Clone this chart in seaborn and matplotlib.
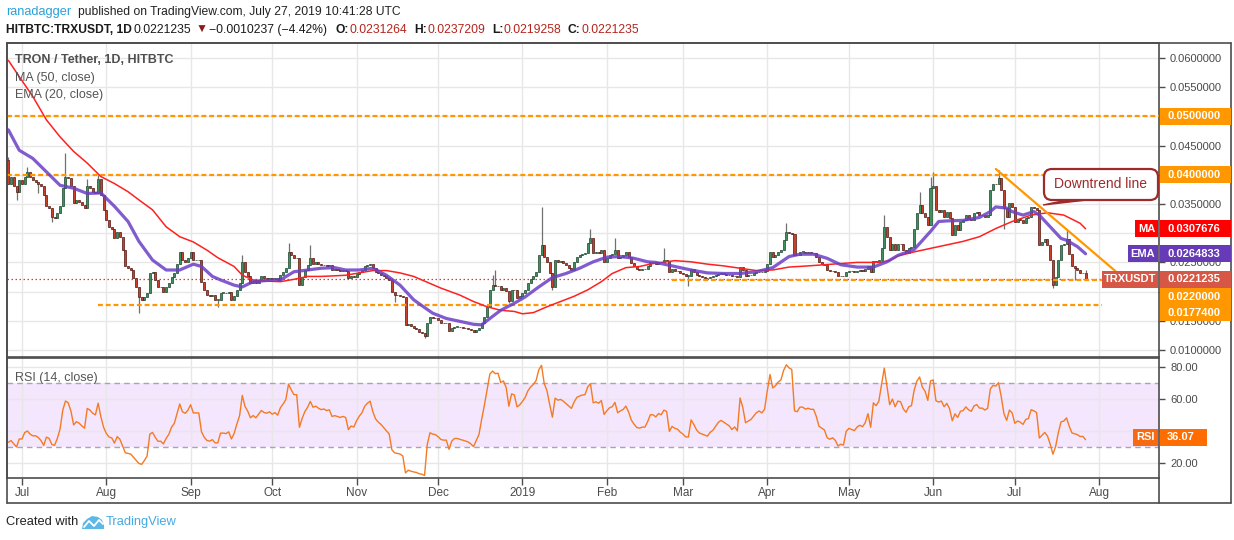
import numpy as np
import pandas as pd
import seaborn as sns
import matplotlib.pyplot as plt
import matplotlib.transforms as mtransforms
from matplotlib.patches import Rectangle, FancyBboxPatch, Polygon
from matplotlib.lines import Line2D

# ---- data (TRX/USDT daily, HitBTC) ----
start_date = "2018-06-26"
first_open = 0.0425

closes = [
    0.0385, 0.0397, 0.0380, 0.0371, 0.0391, 0.0385, 0.0397, 0.0404, 0.0397, 0.0391,  # Jun 26
    0.0388, 0.0385, 0.0380, 0.0366, 0.0346, 0.0343, 0.0328, 0.0326, 0.0334, 0.0346,
    0.0377, 0.0397, 0.0394, 0.0380, 0.0351, 0.0357, 0.0354, 0.0348, 0.0343, 0.0380,
    0.0377, 0.0371, 0.0368, 0.0392, 0.0366, 0.0340, 0.0322, 0.0311, 0.0308, 0.0291,  # Aug
    0.0302, 0.0294, 0.0271, 0.0243, 0.0240, 0.0237, 0.0223, 0.0208, 0.0191, 0.0186,
    0.0191, 0.0197, 0.0231, 0.0234, 0.0220, 0.0208, 0.0208, 0.0200, 0.0208, 0.0214,
    0.0225, 0.0231, 0.0248, 0.0268, 0.0254, 0.0251, 0.0257, 0.0268, 0.0254, 0.0254,  # Sep
    0.0254, 0.0217, 0.0203, 0.0194, 0.0192, 0.0194, 0.0186, 0.0186, 0.0198, 0.0198,
    0.0197, 0.0199, 0.0186, 0.0192, 0.0203, 0.0214, 0.0251, 0.0234, 0.0226, 0.0214,
    0.0218, 0.0214, 0.0220, 0.0226, 0.0223, 0.0222, 0.0224, 0.0221, 0.0223, 0.0220,  # Oct
    0.0229, 0.0234, 0.0240, 0.0268, 0.0262, 0.0257, 0.0257, 0.0211, 0.0225, 0.0237,
    0.0245, 0.0257, 0.0248, 0.0250, 0.0247, 0.0245, 0.0246, 0.0244, 0.0245, 0.0237,
    0.0238, 0.0237, 0.0236, 0.0237, 0.0236, 0.0223, 0.0226, 0.0225, 0.0230, 0.0234,  # Nov
    0.0237, 0.0243, 0.0246, 0.0248, 0.0240, 0.0234, 0.0231, 0.0229, 0.0226, 0.0223,
    0.0220, 0.0200, 0.0195, 0.0194, 0.0193, 0.0190, 0.0143, 0.0145, 0.0141, 0.0138,
    0.0136, 0.0131, 0.0129, 0.0124, 0.0146, 0.0157, 0.0155, 0.0154, 0.0151, 0.0147,  # Dec
    0.0146, 0.0146, 0.0132, 0.0138, 0.0140, 0.0140, 0.0139, 0.0138, 0.0137, 0.0136,
    0.0134, 0.0131, 0.0134, 0.0137, 0.0146, 0.0157, 0.0174, 0.0203, 0.0211, 0.0209,
    0.0210, 0.0203, 0.0206, 0.0201, 0.0184, 0.0203, 0.0202, 0.0189, 0.0192, 0.0197,  # Jan
    0.0203, 0.0214, 0.0221, 0.0226, 0.0234, 0.0263, 0.0280, 0.0260, 0.0251, 0.0231,
    0.0208, 0.0254, 0.0250, 0.0252, 0.0249, 0.0245, 0.0241, 0.0237, 0.0250, 0.0260,
    0.0263, 0.0265, 0.0266, 0.0283, 0.0291, 0.0266, 0.0268, 0.0266, 0.0271, 0.0251,
    0.0257, 0.0262, 0.0264, 0.0271, 0.0257, 0.0260, 0.0262, 0.0267, 0.0260, 0.0249,  # Feb
    0.0243, 0.0238, 0.0237, 0.0238, 0.0238, 0.0243, 0.0250, 0.0250, 0.0248, 0.0251,
    0.0250, 0.0254, 0.0253, 0.0234, 0.0238, 0.0236, 0.0235, 0.0232, 0.0230, 0.0227,
    0.0227, 0.0238, 0.0234, 0.0229, 0.0226, 0.0225, 0.0224, 0.0223, 0.0225, 0.0226,  # Mar
    0.0228, 0.0230, 0.0231, 0.0230, 0.0229, 0.0228, 0.0226, 0.0227, 0.0225, 0.0242,
    0.0237, 0.0227, 0.0228, 0.0229, 0.0231, 0.0233, 0.0234, 0.0233, 0.0235, 0.0248,
    0.0268, 0.0260, 0.0263, 0.0268, 0.0271, 0.0288, 0.0302, 0.0300, 0.0299, 0.0263,  # Apr
    0.0262, 0.0268, 0.0268, 0.0266, 0.0267, 0.0266, 0.0266, 0.0260, 0.0250, 0.0248,
    0.0246, 0.0237, 0.0235, 0.0236, 0.0233, 0.0226, 0.0227, 0.0226, 0.0234, 0.0236,
    0.0235, 0.0234, 0.0236, 0.0237, 0.0236, 0.0238, 0.0243, 0.0234, 0.0252, 0.0250,  # May
    0.0254, 0.0274, 0.0311, 0.0294, 0.0271, 0.0282, 0.0271, 0.0282, 0.0281, 0.0271,
    0.0266, 0.0275, 0.0277, 0.0308, 0.0334, 0.0348, 0.0334, 0.0328, 0.0314, 0.0377,
    0.0381, 0.0340, 0.0337, 0.0340, 0.0328, 0.0337, 0.0326, 0.0297, 0.0314, 0.0305,  # Jun
    0.0320, 0.0322, 0.0331, 0.0325, 0.0322, 0.0334, 0.0337, 0.0331, 0.0331, 0.0328,
    0.0331, 0.0374, 0.0385, 0.0384, 0.0394, 0.0374, 0.0343, 0.0328, 0.0351, 0.0345,
    0.0320, 0.0325, 0.0322, 0.0317, 0.0326, 0.0328, 0.0345, 0.0343, 0.0340, 0.0280,  # Jul
    0.0285, 0.0290, 0.0280, 0.0254, 0.0211, 0.0225, 0.0254, 0.0280, 0.0282, 0.0290,
    0.0265, 0.0243, 0.0240, 0.0237, 0.0231, 0.0231264, 0.0221235,
]

# visible wicks (day offset from start_date)
hi_days = [0, 7, 21, 29, 33, 86, 103, 111, 178, 179, 196, 214, 223, 241, 286,
           322, 335, 339, 340, 364, 389, 396]
hi_vals = [0.0430, 0.0414, 0.0437, 0.0392, 0.0400, 0.0263, 0.0283, 0.0280, 0.0228, 0.0237,
           0.0345, 0.0307, 0.0291, 0.0274, 0.0317, 0.0331, 0.0371, 0.0397, 0.0405, 0.0408,
           0.0307, 0.0237209]
lo_days = [3, 11, 16, 48, 77, 142, 153, 184, 200, 250, 366, 384, 392, 396]
lo_vals = [0.0357, 0.0368, 0.0320, 0.0163, 0.0174, 0.0182, 0.0120, 0.0180, 0.0203, 0.0209,
           0.0308, 0.0206, 0.0220, 0.0219258]

# MA (50) and EMA (20) as drawn on the chart
ma_days = [0, 4, 9, 14, 19, 24, 29, 34, 39, 44, 48, 53, 58, 63, 68, 73, 77, 83, 86, 90,
           95, 100, 105, 110, 115, 120, 124, 129, 134, 139, 144, 149, 154, 159, 166, 171,
           176, 181, 186, 189, 193, 198, 203, 208, 213, 218, 222, 227, 232, 237, 245, 251,
           257, 263, 269, 275, 281, 287, 294, 300, 306, 312, 318, 320, 324, 327, 333, 339,
           345, 351, 357, 363, 369, 376, 382, 388, 394, 396]
ma_vals = [0.0596, 0.0568, 0.0534, 0.0494, 0.0465, 0.0440, 0.0420, 0.0397, 0.0385, 0.0371,
           0.0357, 0.0340, 0.0311, 0.0294, 0.0285, 0.0271, 0.0258, 0.0243, 0.0228, 0.0220,
           0.0218, 0.0217, 0.0221, 0.0226, 0.0226, 0.0227, 0.0228, 0.0232, 0.0236, 0.0236,
           0.0232, 0.0226, 0.0216, 0.0206, 0.0194, 0.0183, 0.0174, 0.0168, 0.0166, 0.0162,
           0.0164, 0.0174, 0.0183, 0.0192, 0.0203, 0.0217, 0.0231, 0.0241, 0.0243, 0.0248,
           0.0253, 0.0251, 0.0247, 0.0244, 0.0240, 0.0236, 0.0237, 0.0242, 0.0244, 0.0246,
           0.0248, 0.0250, 0.0250, 0.0250, 0.0253, 0.0261, 0.0268, 0.0274, 0.0280, 0.0286,
           0.0294, 0.0308, 0.0320, 0.0331, 0.0335, 0.0331, 0.0317, 0.0307676]
ema_days = [0, 4, 9, 14, 19, 24, 29, 34, 39, 44, 48, 53, 58, 63, 68, 71, 75, 78, 83, 86,
            90, 95, 100, 105, 110, 115, 120, 124, 129, 134, 139, 144, 149, 152, 156, 161,
            166, 171, 174, 177, 181, 186, 190, 195, 200, 205, 210, 215, 220, 225, 230, 235,
            238, 244, 251, 257, 263, 269, 275, 281, 287, 291, 296, 301, 306, 312, 318, 323,
            327, 333, 339, 342, 345, 351, 357, 361, 363, 367, 369, 373, 377, 379, 383, 387,
            389, 393, 396]
ema_vals = [0.0477, 0.0442, 0.0428, 0.0405, 0.0382, 0.0377, 0.0368, 0.0369, 0.0346, 0.0320,
            0.0286, 0.0254, 0.0237, 0.0237, 0.0247, 0.0243, 0.0226, 0.0220, 0.0211, 0.0208,
            0.0217, 0.0219, 0.0220, 0.0234, 0.0237, 0.0240, 0.0241, 0.0237, 0.0237, 0.0240,
            0.0228, 0.0211, 0.0186, 0.0176, 0.0163, 0.0154, 0.0149, 0.0144, 0.0143, 0.0154,
            0.0168, 0.0180, 0.0191, 0.0208, 0.0224, 0.0231, 0.0240, 0.0251, 0.0259, 0.0260,
            0.0257, 0.0251, 0.0250, 0.0244, 0.0237, 0.0232, 0.0231, 0.0231, 0.0234, 0.0241,
            0.0260, 0.0264, 0.0264, 0.0257, 0.0246, 0.0242, 0.0242, 0.0251, 0.0262, 0.0272,
            0.0303, 0.0320, 0.0321, 0.0322, 0.0327, 0.0337, 0.0345, 0.0343, 0.0337, 0.0331,
            0.0337, 0.0331, 0.0311, 0.0291, 0.0288, 0.0277, 0.0264833]

# RSI for the first two weeks (before 14 bars of history exist in this series)
rsi_head = [33, 34, 32, 30, 35, 35, 39, 40, 38, 37, 37, 36, 34, 31]

full_levels = [0.05, 0.04]
support_levels = [0.022, 0.01774]
support_from = ["2019-02-25", "2018-07-29"]
support_to = "2019-08-02"
trend_dates = ["2019-06-24", "2019-08-07"]
trend_prices = [0.0410, 0.0235]

last_price = 0.0221235
ma_last = 0.0307676
ema_last = 0.0264833
rsi_last = 36.07

month_starts = ["2018-07-01", "2018-08-01", "2018-09-01", "2018-10-01", "2018-11-01",
                "2018-12-01", "2019-01-01", "2019-02-01", "2019-03-01", "2019-04-01",
                "2019-05-01", "2019-06-01", "2019-07-01", "2019-08-01"]
month_labels = ["Jul", "Aug", "Sep", "Oct", "Nov", "Dec", "2019", "Feb", "Mar", "Apr",
                "May", "Jun", "Jul", "Aug"]

# ---- figure ----
sns.set_theme(style="white")
plt.rcParams["font.family"] = ["Liberation Sans", "DejaVu Sans"]

W, H = 1234, 540
fig = plt.figure(figsize=(W / 100, H / 100), dpi=100)
fig.patch.set_facecolor("white")
ident = mtransforms.IdentityTransform()


def fy(y):
    # pixel row from the top -> display y
    return H - y


ax = fig.add_axes([7 / W, (H - 357) / H, 1152 / W, 314 / H])
ax_rsi = fig.add_axes([7 / W, (H - 478) / H, 1152 / W, 120 / H])

t0 = pd.Timestamp(start_date)


def day_of(s):
    return (pd.Timestamp(s) - t0).days


xlim = (-0.5, 423.0)
month_x = [day_of(m) for m in month_starts]
grid_c = "#e7e7e7"
frame_c = "#4d4d4d"

# candles
n = len(closes)
days = np.arange(n)
cl = np.array(closes)
op = np.array([first_open] + closes[:-1])
highs = np.maximum(op, cl)
lows = np.minimum(op, cl)
highs[hi_days] = hi_vals
lows[lo_days] = lo_vals
up = cl >= op
body_lo = np.minimum(op, cl)
body_h = np.maximum(np.abs(cl - op), 0.00007)

ax.vlines(days, lows, highs, color="#707070", lw=0.9, zorder=2)
ax.bar(days[up], body_h[up], bottom=body_lo[up], width=0.74, color="#3f8f5f",
       edgecolor="#1d4a30", linewidth=0.5, zorder=3)
ax.bar(days[~up], body_h[~up], bottom=body_lo[~up], width=0.74, color="#c83f2c",
       edgecolor="#541a12", linewidth=0.5, zorder=3)

sns.lineplot(x=ma_days, y=ma_vals, ax=ax, color="#ff2020", lw=1.1, zorder=5, legend=False)
sns.lineplot(x=ema_days, y=ema_vals, ax=ax, color="#6b3fc6", lw=2.3, alpha=0.85, zorder=5,
             legend=False)

# levels and drawings
ax.axhline(last_price, color="#e03a34", lw=0.9, ls=(0, (1.2, 2)), zorder=1.5)
for lv in full_levels:
    ax.axhline(lv, color="#ff9800", lw=1.6, ls=(0, (2.2, 1.3)), zorder=4)
for lv, d0 in zip(support_levels, support_from):
    ax.hlines(lv, day_of(d0), day_of(support_to), color="#ff9800", lw=1.6,
              ls=(0, (2.2, 1.3)), zorder=4)
ax.plot([day_of(d) for d in trend_dates], trend_prices, color="#ff9800", lw=1.6, zorder=6)

ax.set_xlim(*xlim)
ax.set_ylim(0.008801, 0.062568)
ax.set_xticks(month_x)
price_ticks = np.arange(0.01, 0.0601, 0.005)
# labels that sit fully under a price tag are left blank
hidden = {0.05, 0.04, 0.03, 0.02}
ax.set_yticks(price_ticks)
ax.set_yticklabels(["" if round(v, 3) in hidden else f"{v:.7f}" for v in price_ticks])
ax.yaxis.tick_right()
ax.tick_params(axis="y", right=True, left=False, length=4, width=1, color=frame_c,
               labelsize=8, labelcolor="#4a4a4a", pad=4)
ax.tick_params(axis="x", length=0, labelbottom=False)
ax.grid(True, color=grid_c, lw=1)
ax.set_axisbelow(True)
ax.set_xlabel("")
ax.set_ylabel("")
for sp in ax.spines.values():
    sp.set_color(frame_c)
    sp.set_linewidth(1.2)

# RSI panel
cs = pd.Series(closes)
delta = cs.diff()
gain = delta.clip(lower=0).to_numpy()
loss = (-delta).clip(lower=0).to_numpy()
avg_g = np.full(n, np.nan)
avg_l = np.full(n, np.nan)
avg_g[14] = gain[1:15].mean()
avg_l[14] = loss[1:15].mean()
for i in range(15, n):
    avg_g[i] = (avg_g[i - 1] * 13 + gain[i]) / 14
    avg_l[i] = (avg_l[i - 1] * 13 + loss[i]) / 14
rsi = 100 - 100 / (1 + avg_g / avg_l)
rsi[:14] = rsi_head

ax_rsi.axhspan(30, 70, color="#f3e6fd", zorder=0.5, lw=0)
for lv in (70, 30):
    ax_rsi.axhline(lv, color="#aaa3b2", lw=1, ls=(0, (4, 3)), zorder=1)
sns.lineplot(x=days, y=rsi, ax=ax_rsi, color="#f57a22", lw=1.0, zorder=3, legend=False)
ax_rsi.set_xlim(*xlim)
ax_rsi.set_ylim(10.625, 85.625)
ax_rsi.set_xticks(month_x)
ax_rsi.set_xticklabels(month_labels)
ax_rsi.set_yticks([20, 40, 60, 80])
# 40.00 sits under the RSI value tag
ax_rsi.set_yticklabels(["20.00", "", "60.00", "80.00"])
ax_rsi.yaxis.tick_right()
ax_rsi.tick_params(axis="y", right=True, left=False, length=4, width=1, color=frame_c,
                   labelsize=8, labelcolor="#4a4a4a", pad=4)
ax_rsi.tick_params(axis="x", bottom=True, length=5, width=1, color=frame_c,
                   labelsize=8.5, labelcolor="#4a4a4a", pad=1.5)
ax_rsi.grid(True, color=grid_c, lw=1)
ax_rsi.set_axisbelow(True)
ax_rsi.set_xlabel("")
ax_rsi.set_ylabel("")
for sp in ax_rsi.spines.values():
    sp.set_color(frame_c)
    sp.set_linewidth(1.2)

# outer frame
for (x0, y0, x1, y1) in [(7, 43, 1231, 43), (1231, 43, 1231, 503), (7, 503, 1231, 503),
                         (7, 43, 7, 503), (1159, 478, 1159, 503)]:
    fig.add_artist(Line2D([x0, x1], [fy(y0), fy(y1)], transform=ident, color=frame_c,
                          lw=1.2, zorder=9))


# price-scale tags
def tag(y, x0, x1, txt, bg, center=False, size=8):
    fig.add_artist(Rectangle((x0, fy(y) - 8.5), x1 - x0, 17, transform=ident,
                             facecolor=bg, edgecolor="none", zorder=10))
    if center:
        fig.text((x0 + x1) / 2, fy(y), txt, transform=ident, ha="center", va="center",
                 color="white", fontsize=size, fontweight="bold", zorder=11)
    else:
        fig.text(x0 + 7, fy(y), txt, transform=ident, ha="left", va="center",
                 color="white", fontsize=size, fontweight="bold", zorder=11)


def py(a, v):
    return H - a.transData.transform((0, v))[1]


orange = "#ff9800"
tag(py(ax, 0.05), 1160, 1231, "0.0500000", orange)
tag(py(ax, 0.04), 1160, 1231, "0.0400000", orange)
tag(py(ax, ma_last), 1135, 1158, "MA", "#ff0000", center=True)
tag(py(ax, ma_last), 1160, 1231, f"{ma_last:.7f}", "#ff0000")
tag(py(ax, ema_last), 1128, 1158, "EMA", "#673ab7", center=True)
tag(py(ax, ema_last), 1160, 1231, f"{ema_last:.7f}", "#673ab7")
tag(py(ax, last_price), 1102, 1158, "TRXUSDT", "#d65745", center=True)
tag(py(ax, last_price), 1160, 1231, f"{last_price:.7f}", "#d65745")
tag(py(ax, support_levels[0]) + 17, 1160, 1231, "0.0220000", orange)
tag(py(ax, support_levels[1]) + 8, 1160, 1231, "0.0177400", orange)
tag(py(ax_rsi, rsi_last), 1133, 1158, "RSI", "#f86a10", center=True)
tag(py(ax_rsi, rsi_last), 1160, 1207, f"{rsi_last:.2f}", "#ff6d00")

# callout
fig.add_artist(Polygon([(1043, fy(205)), (1072, fy(199)), (1096, fy(199))], closed=True,
                       transform=ident, facecolor="#9e2b2b", edgecolor="#9e2b2b", lw=1,
                       zorder=12))
fig.add_artist(FancyBboxPatch((1044, fy(200)), 114, 31, boxstyle="round,pad=0,rounding_size=8",
                              transform=ident, facecolor="white", edgecolor="#9e2b2b",
                              lw=1.6, zorder=12))
fig.text(1101, fy(184), "Downtrend line", transform=ident, ha="center", va="center",
         color="#9e2b2b", fontsize=10, zorder=13)

# legends inside panels
fig.text(15, fy(60), "TRON / Tether, 1D, HITBTC", transform=ident, va="center",
         color="#4f4f4f", fontsize=9, fontweight="bold")
fig.text(15, fy(78), "MA (50, close)", transform=ident, va="center", color="#555555",
         fontsize=9)
fig.text(15, fy(95), "EMA (20, close)", transform=ident, va="center", color="#555555",
         fontsize=9)
fig.text(15, fy(378), "RSI (14, close)", transform=ident, va="center", color="#555555",
         fontsize=9)

# header
hs = 8.7
red = "#b3261e"
fig.text(6, fy(12), "ranadagger", transform=ident, va="center", color="#2a9fd8", fontsize=9.2)
fig.text(78, fy(12), "published on TradingView.com, July 27, 2019 10:41:28 UTC",
         transform=ident, va="center", color="#222222", fontsize=hs)
for x, s, c, w in [(6, "HITBTC:TRXUSDT, 1D", "#1a1a1a", "bold"),
                   (134, "0.0221235", "#1a1a1a", "normal"),
                   (196, "\u25bc", "#8b1a1a", "normal"),
                   (209, "\u22120.0010237 (\u22124.42%)", "#1a1a1a", "normal"),
                   (336, "O:", "#1a1a1a", "bold"),
                   (349, "0.0231264", red, "normal"),
                   (414, "H:", "#1a1a1a", "bold"),
                   (427, "0.0237209", red, "normal"),
                   (492, "L:", "#1a1a1a", "bold"),
                   (503, "0.0219258", red, "normal"),
                   (568, "C:", "#1a1a1a", "bold"),
                   (581, "0.0221235", red, "normal")]:
    fig.text(x, fy(30), s, transform=ident, va="center", color=c, fontsize=hs, fontweight=w)

# footer
fig.text(6, fy(522), "Created with", transform=ident, va="center", color="#222222",
         fontsize=9.3)
fig.add_artist(Polygon([(82, fy(529)), (83, fy(523)), (87, fy(519)), (92, fy(516)),
                        (98, fy(517)), (102, fy(520)), (104, fy(525)), (104, fy(529))],
                       closed=True, transform=ident, facecolor="#5cb8e6", edgecolor="none",
                       zorder=5))
fig.add_artist(Line2D([84, 89, 94, 99, 103], [fy(527), fy(521), fy(526), fy(520), fy(524)],
                      transform=ident, color="white", lw=1.3, zorder=6))
fig.text(106, fy(522), "TradingView", transform=ident, va="center", color="#45a9e0",
         fontsize=9.3)

fig.savefig("out.png", dpi=100, facecolor="white")
